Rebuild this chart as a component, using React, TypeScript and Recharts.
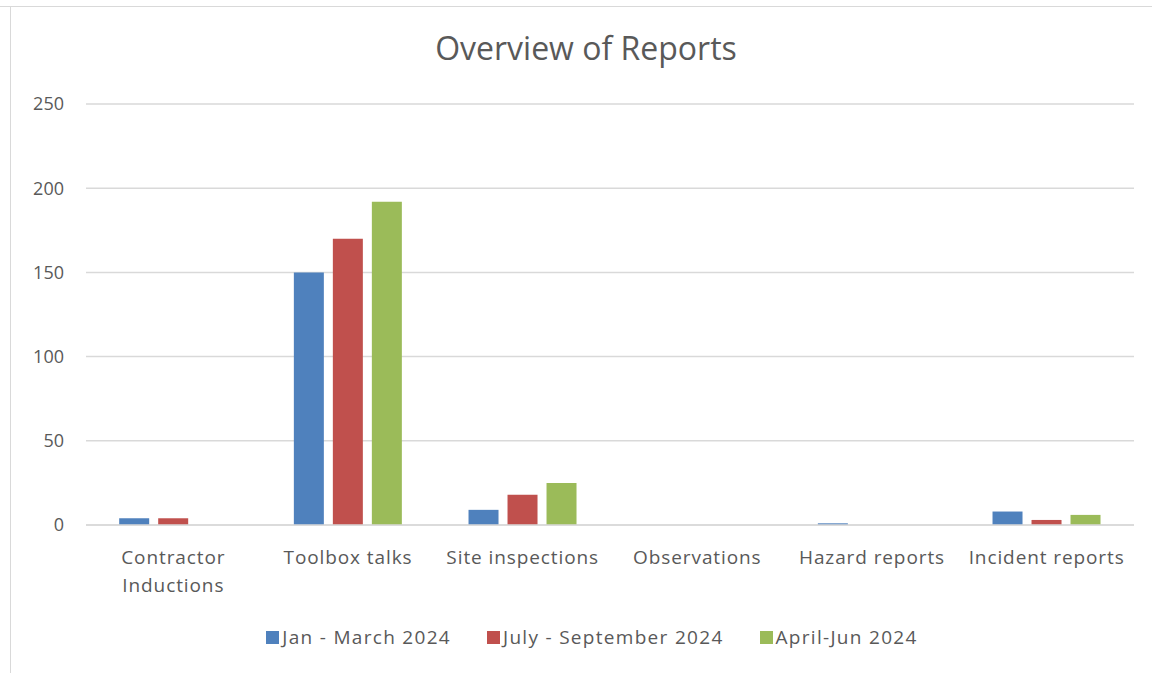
import React from "react";
import { BarChart, Bar, XAxis, YAxis, CartesianGrid, Legend } from "recharts";

const categories = [
  "Contractor Inductions",
  "Toolbox talks",
  "Site inspections",
  "Observations",
  "Hazard reports",
  "Incident reports",
];
const janMarch = [4, 150, 9, 0, 1, 8];
const julySept = [4, 170, 18, 0, 0, 3];
const aprilJun = [0, 192, 25, 0, 0, 6];
const yTicks = [0, 50, 100, 150, 200, 250];

const seriesNames = ["Jan - March 2024", "July - September 2024", "April-Jun 2024"];
const seriesColors = ["#4F81BD", "#C0504D", "#9BBB59"];

const data = categories.map((c, i) => ({
  name: c,
  a: janMarch[i],
  b: julySept[i],
  c: aprilJun[i],
}));

const FONT = "'Open Sans', sans-serif";
const TEXT = "#595959";

const XTick = (props: any) => {
  const { x, y, payload } = props;
  const label: string = payload.value;
  let lines = [label];
  if (label.length > 18) {
    const words = label.split(" ");
    lines = [words.slice(0, -1).join(" "), words[words.length - 1]];
  }
  return (
    <g transform={`translate(${x},${y})`}>
      {lines.map((l, i) => (
        <text
          key={i}
          x={0}
          y={31 + i * 28}
          textAnchor="middle"
          fill={TEXT}
          fontSize={19}
          letterSpacing={0.9}
          fontFamily={FONT}
        >
          {l}
        </text>
      ))}
    </g>
  );
};

const LegendContent = () => (
  <div
    style={{
      display: "flex",
      justifyContent: "center",
      gap: 36,
      fontFamily: FONT,
      fontSize: 19,
      letterSpacing: 1.3,
      color: TEXT,
      height: 26,
      alignItems: "center",
      transform: "translate(12px,-3px)",
    }}
  >
    {seriesNames.map((n, i) => (
      <div key={n} style={{ display: "flex", alignItems: "center" }}>
        <span
          style={{
            display: "inline-block",
            width: 13,
            height: 13,
            background: seriesColors[i],
            marginRight: 3,
          }}
        />
        <span>{n}</span>
      </div>
    ))}
  </div>
);

export default function App() {
  return (
    <div style={{ position: "absolute", left: 0, top: 0, width: 1152, height: 673, background: "#fff" }}>
      <div
        style={{
          position: "absolute",
          left: 0,
          top: 6,
          width: 1152,
          height: 1,
          background: "#d9d9d9",
        }}
      />
      <div
        style={{
          position: "absolute",
          left: 10,
          top: 7,
          width: 1,
          height: 666,
          background: "#d9d9d9",
        }}
      />
      <div
        style={{
          position: "absolute",
          left: 0,
          top: 26,
          width: 1172,
          textAlign: "center",
          fontFamily: FONT,
          fontSize: 32,
          color: TEXT,
        }}
      >
        Overview of Reports
      </div>
      <div style={{ position: "absolute", left: 0, top: 0 }}>
        <BarChart
          width={1152}
          height={673}
          data={data}
          margin={{ top: 104, right: 18, bottom: 20, left: 26 }}
          barGap={9}
          barCategoryGap="19%"
        >
          <CartesianGrid vertical={false} stroke="#d9d9d9" strokeWidth={1.5} />
          <XAxis
            dataKey="name"
            axisLine={{ stroke: "#d9d9d9", strokeWidth: 1.5 }}
            tickLine={false}
            tick={<XTick />}
            height={102}
            interval={0}
          />
          <YAxis
            domain={[0, 250]}
            ticks={yTicks}
            axisLine={false}
            tickLine={false}
            width={60}
            tickSize={2}
            tickMargin={20}
            tick={{ fill: TEXT, fontSize: 18, fontFamily: FONT }}
          />
          <Legend verticalAlign="bottom" content={<LegendContent />} />
          <Bar dataKey="a" name={seriesNames[0]} fill={seriesColors[0]} isAnimationActive={false} />
          <Bar dataKey="b" name={seriesNames[1]} fill={seriesColors[1]} isAnimationActive={false} />
          <Bar dataKey="c" name={seriesNames[2]} fill={seriesColors[2]} isAnimationActive={false} />
        </BarChart>
      </div>
    </div>
  );
}
